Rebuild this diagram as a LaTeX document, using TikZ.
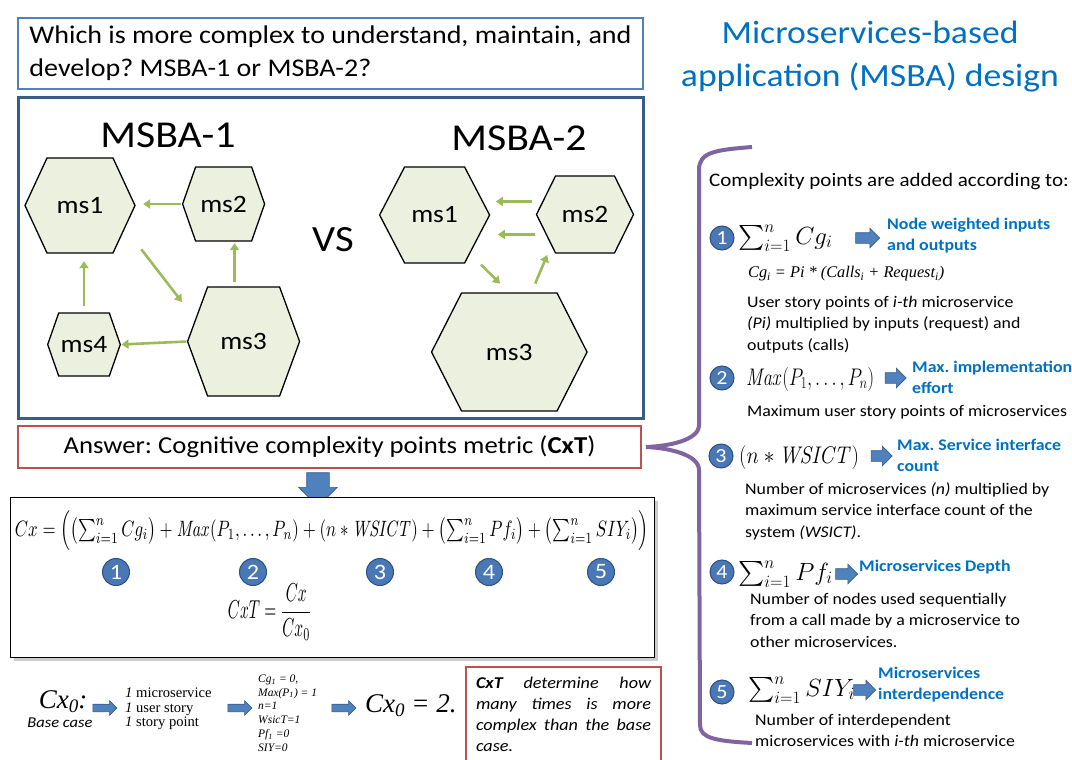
\documentclass[tikz,border=0pt]{standalone}
\usepackage{amsmath}
\usepackage{graphicx}
\usepackage[no-math]{fontspec}
\setmainfont{Carlito}[FakeStretch=1.1]
\newfontfamily\timesfont{Liberation Serif}
\usetikzlibrary{arrows.meta,shapes.arrows,shadows}
\definecolor{Q1}{HTML}{4F81BD}
\definecolor{D1}{HTML}{385D8A}
\definecolor{R1}{HTML}{C0504D}
\definecolor{G1}{HTML}{9BBB59}
\definecolor{H1}{HTML}{EBF1DE}
\definecolor{B1}{HTML}{0070C0}
\definecolor{P1}{HTML}{8064A2}
\definecolor{N1}{HTML}{4A78B5}
\definecolor{N2}{HTML}{2C4F86}
\frenchspacing
% hexagon: name, x, y, width, height, cut, label
\newcommand{\hexa}[7]{%
  \filldraw[hex] ({#2-#4/2},#3) -- ({#2-#4/2+#6},{#3-#5/2}) -- ({#2+#4/2-#6},{#3-#5/2})
    -- ({#2+#4/2},#3) -- ({#2+#4/2-#6},{#3+#5/2}) -- ({#2-#4/2+#6},{#3+#5/2}) -- cycle;
  \node[ms,minimum width=#4,minimum height=#5] (#1) at (#2,#3) {#7};}
\newcommand{\zero}{\raisebox{-4pt}{\fontsize{19}{19}\selectfont 0}}
\begin{document}
\begin{tikzpicture}[x=1pt,y=-1pt]
\tikzstyle{hex} = [fill=H1,draw=black,line width=1.3pt]
\tikzstyle{ms} = [inner sep=0pt,font=\fontsize{25}{25}\selectfont]
\tikzstyle{flow} = [G1,line width=2.6pt,-{Triangle[length=7pt,width=9pt]}]
\tikzstyle{num} = [circle,fill=N1,draw=N2,line width=1pt,text=white,minimum size=24pt,inner sep=0pt,font=\fontsize{20}{20}\selectfont]
\tikzstyle{barr} = [single arrow,fill=Q1,draw=D1,line width=.6pt,inner sep=5pt,minimum height=24pt,single arrow head extend=4.5pt]
\tikzstyle{sarr} = [barr,inner sep=3.5pt,single arrow head extend=3.5pt]
\tikzstyle{hd} = [B1,font=\fontsize{16.2}{21}\selectfont\bfseries,align=left,anchor=west,inner sep=0pt]
\tikzstyle{txt} = [font=\fontsize{16.2}{21.5}\selectfont,align=left,anchor=north west,inner sep=0pt]
\tikzstyle{eq} = [anchor=west,inner sep=0pt,font=\fontsize{24}{24}\selectfont]
\useasboundingbox (0,0) rectangle (1072,760);

% question and title
\node[draw=Q1,line width=2pt,anchor=north west,minimum width=625pt,minimum height=71pt,align=left,font=\fontsize{25.5}{33}\selectfont] (q) at (17,17)
  {Which is more complex to understand, maintain, and\\develop? MSBA-1 or MSBA-2?};
\node[B1,font=\fontsize{32.4}{43}\selectfont,align=center] (title) at (870,57) {Microservices-based\\application (MSBA) design};

% the two applications
\node[draw=D1,line width=3pt,anchor=north west,minimum width=625pt,minimum height=321pt,inner sep=0pt] (dia) at (17,96) {};
\node[font=\fontsize{38}{38}\selectfont] (t1) at (168,135) {MSBA-1};
\node[font=\fontsize{38}{38}\selectfont] (t2) at (519,138) {MSBA-2};
\node[font=\fontsize{37}{37}\selectfont] (vs) at (333,240) {VS};
\hexa{a1}{80}{205.5}{110}{95}{22}{ms1}
\hexa{a2}{223.6}{204}{82}{74}{13}{ms2}
\hexa{a3}{243.6}{341.5}{112}{109}{20}{ms3}
\hexa{a4}{84}{344.5}{72.6}{63}{11}{ms4}
\hexa{b1}{434.6}{215}{110}{96}{25}{ms1}
\hexa{b2}{585}{214.5}{97}{77}{19}{ms2}
\hexa{b3}{509.3}{352}{155.5}{118}{30}{ms3}
\draw[flow,shorten <=1pt,shorten >=8pt] (a2.west) -- (a2.west -| a1.east);
\draw[flow,shorten <=10pt,shorten >=9pt] (a1.-33) -- (a3.150);
\draw[flow,shorten <=5pt,shorten >=2pt] ([xshift=-9pt]a3.north) -- ([xshift=-9pt]a3.north |- a2.south);
\draw[flow,shorten <=7pt,shorten >=8pt] (a4.north) -- (a4.north |- a1.south);
\draw[flow,shorten <=1pt,shorten >=1pt] (a3.west) -- (a4.east);
\draw[flow,shorten <=4pt,shorten >=6pt] ([yshift=13pt]b2.west) -- ([yshift=13pt]b2.west -| b1.east);
\draw[flow,shorten <=1pt,shorten >=8pt] ([yshift=-20pt]b2.west) -- ([yshift=-20pt]b2.west -| b1.east);
\draw[flow,shorten <=2pt,shorten >=13pt] (b1.-47) -- (b3.north);
\draw[flow,shorten <=10pt,shorten >=2pt] ([xshift=22pt]b3.north) -- ([xshift=-37pt]b2.south);

% answer and formula
\node[draw=R1,line width=2pt,anchor=north west,minimum width=623pt,minimum height=42pt,font=\fontsize{24.3}{24}\selectfont] (ans) at (17,425)
  {Answer: Cognitive complexity points metric (\textbf{CxT})};
\node[barr,shape border rotate=270,inner sep=11pt,minimum height=28pt,single arrow head extend=8pt] (down) at (318,484) {};
\node[draw=black,line width=1pt,fill=white,drop shadow={shadow xshift=3pt,shadow yshift=-3pt,opacity=.4},anchor=north west,minimum width=644pt,minimum height=160pt] (fb) at (10,497) {};
\node[inner sep=0pt] (fx) at (332,531) {\resizebox*{634pt}{40pt}{$Cx=\Bigl(\bigl(\sum_{i=1}^{n}Cg_i\bigr)+\mathit{Max}(P_1,\dots,P_n)+(n\ast\mathit{WSICT})+\bigl(\sum_{i=1}^{n}Pf_i\bigr)+\bigl(\sum_{i=1}^{n}SIY_i\bigr)\Bigr)$}};
\foreach \i/\x in {1/116,2/253,3/380,4/489,5/601}
  \node[num,minimum size=27pt,font=\fontsize{22}{22}\selectfont] (c\i) at (\x,572) {\i};
\node[inner sep=0pt] (fr) at (270,612) {\resizebox*{84pt}{57pt}{$CxT=\dfrac{Cx}{Cx_0}$}};

% base case
\node[font=\timesfont\itshape\fontsize{27}{27}\selectfont] (cx0) at (63,702) {Cx\zero:};
\node[font=\itshape\fontsize{15}{15}\selectfont] (bc) at (60,723) {Base case};
\node[sarr] (r1) at (103,708) {};
\node[font=\timesfont\fontsize{14.6}{14.5}\selectfont,align=left,anchor=west,inner sep=0pt] (base) at (125,709)
  {\textit{1} microservice\\\textit{1} user story\\\textit{1} story point};
\node[sarr] (r2) at (238,708) {};
\node[font=\timesfont\itshape\fontsize{11.5}{13.8}\selectfont,align=left,anchor=west,inner sep=0pt] (vals) at (258,713)
  {Cg\textsubscript{1} = 0,\\Max(P\textsubscript{1}) = 1\\n=1\\WsicT=1\\Pf\textsubscript{1} =0\\SIY=0};
\node[sarr] (r3) at (342,708) {};
\node[font=\timesfont\itshape\fontsize{27}{27}\selectfont,anchor=west,inner sep=0pt] (res) at (365,706) {Cx\zero{} = 2.};
\node[draw=R1,line width=2pt,anchor=north west,inner xsep=10pt,inner ysep=10pt,text width=175pt,align=justify,font=\itshape\fontsize{16.5}{21}\selectfont] (note) at (465,666)
  {\textbf{CxT} determine how\linebreak many times is more\linebreak complex than the base\linebreak case.};

% brace and complexity points
\draw[P1,line width=4pt] (752,147) .. controls (715,150) and (699,152) .. (699,170) -- (699,425)
  .. controls (699,440) and (670,446) .. ([xshift=4pt]ans.east) .. controls (670,448) and (699,455) .. (699,470)
  -- (700,725) .. controls (700,738) and (715,741) .. (752,743);
\node[txt,anchor=west,font=\fontsize{19.1}{19}\selectfont] (cp) at (709,182) {Complexity points are added according to:};

\node[num] (n1) at (722,238) {1};
\node[eq] (e1) at (738,238) {$\sum_{i=1}^{n}Cg_i$};
\node[barr] (p1) at (865,238) {};
\node[hd] (h1) at (887,236) {Node weighted inputs\\and outputs};
\node[anchor=west,inner sep=0pt,font=\timesfont\itshape\fontsize{16.3}{16}\selectfont] (f1) at (748,274) {Cg\textsubscript{i} = Pi * (Calls\textsubscript{i} + Request\textsubscript{i})};
\node[txt] (d1) at (747,296) {User story points of \textit{i-th} microservice\\\textit{(Pi)} multiplied by inputs (request) and\\outputs (calls)};

\node[num] (n2) at (722,378) {2};
\node[eq] (e2) at (746,379) {\resizebox*{128pt}{24pt}{$\mathit{Max}(P_1,\dots,P_n)$}};
\node[barr,minimum height=21pt] (p2) at (893,378) {};
\node[hd] (h2) at (912,377) {Max. implementation\\effort};
\node[txt] (d2) at (747,405) {Maximum user story points of microservices};

\node[num] (n3) at (721,456) {3};
\node[eq] (e3) at (739,457) {\resizebox*{120pt}{24pt}{$(n\ast\mathit{WSICT})$}};
\node[barr,minimum height=21pt] (p3) at (879,456) {};
\node[hd] (h3) at (897,455) {Max. Service interface\\count};
\node[txt] (d3) at (745,482) {Number of microservices \textit{(n)} multiplied by\\maximum service interface count of the\\system \textit{(WSICT)}.};

\node[num] (n4) at (722,572) {4};
\node[eq] (e4) at (738,574) {$\sum_{i=1}^{n}Pf_i$};
\node[barr,minimum height=22pt] (p4) at (844,574) {};
\node[hd] (h4) at (859,567) {Microservices Depth};
\node[txt] (d4) at (750,593) {Number of nodes used sequentially\\from a call made by a microservice to\\other microservices.};

\node[num] (n5) at (722,692) {5};
\node[eq] (e5) at (748,690) {$\sum_{i=1}^{n}SIY_i$};
\node[barr,minimum height=22pt] (p5) at (862,690) {};
\node[hd] (h5) at (878,685) {Microservices\\interdependence};
\node[txt] (d5) at (755,714) {Number of interdependent\\microservices with \textit{i-th} microservice};
\end{tikzpicture}
\end{document}
